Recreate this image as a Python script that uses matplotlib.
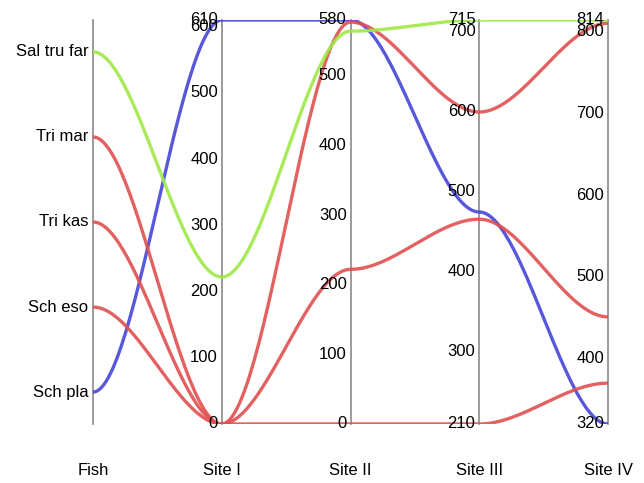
import matplotlib
matplotlib.use("Agg")
import matplotlib.pyplot as plt
import numpy as np

plt.rcParams["font.family"] = ["Liberation Sans", "DejaVu Sans"]

DIMS = ["Fish", "Site I", "Site II", "Site III", "Site IV"]
FISH = ["Sch pla", "Sch eso", "Tri kas", "Tri mar", "Sal tru far"]  # bottom -> top

# per-axis domain (min, max) and ticks
SITE_RANGES = [(0, 610), (0, 580), (210, 715), (320, 814)]
SITE_TICKS = [
    [0, 100, 200, 300, 400, 500, 600, 610],
    [0, 100, 200, 300, 400, 500, 580],
    [210, 300, 400, 500, 600, 700, 715],
    [320, 400, 500, 600, 700, 800, 814],
]

# one record per fish: Site I..IV
SITE_I = [610, 0, 0, 0, 222]
SITE_II = [580, 0, 222, 577, 564]
SITE_III = [475, 210, 466, 600, 715]
SITE_IV = [320, 370, 451, 810, 814]
COLORS = ["#4646d8", "#e05050", "#e05050", "#e05050", "#9fe846"]

FISH_PAD = 0.079  # point-scale padding on Fish axis


def fish_pos(name):
    i = FISH.index(name)
    return FISH_PAD + i * (1 - 2 * FISH_PAD) / (len(FISH) - 1)


def norm(v, k):
    lo, hi = SITE_RANGES[k]
    return (v - lo) / (hi - lo)


fig = plt.figure(figsize=(6.44, 4.83), dpi=100)
ax = fig.add_axes([93 / 644, 59 / 483, 515 / 644, 404 / 483])
ax.set_xlim(0, 4)
ax.set_ylim(0, 1)
ax.axis("off")

# lines, smooth step between neighbouring axes
u = np.linspace(0, 1, 60)
s = 3 * u ** 2 - 2 * u ** 3
for j, name in enumerate(FISH):
    ys = [fish_pos(name)] + [norm(vals[j], k) for k, vals in
                             enumerate([SITE_I, SITE_II, SITE_III, SITE_IV])]
    xs_all, ys_all = [], []
    for i in range(4):
        xs_all.append(i + u)
        ys_all.append(ys[i] + (ys[i + 1] - ys[i]) * s)
    ax.plot(np.concatenate(xs_all), np.concatenate(ys_all), color=COLORS[j],
            lw=2.4, alpha=0.9, clip_on=True, zorder=3)

# axes lines
for i in range(5):
    ax.plot([i, i], [0, 1], color="#8a8a8a", lw=1.2, zorder=2, clip_on=False)
    ax.text(i, -0.115, DIMS[i], ha="center", va="center", fontsize=12)

# fish labels
for name in FISH:
    ax.text(-0.035, fish_pos(name), name, ha="right", va="center", fontsize=12)

# numeric ticks
for k in range(4):
    for t in SITE_TICKS[k]:
        ax.text(k + 1 - 0.03, norm(t, k), str(t), ha="right", va="center",
                fontsize=12, zorder=4)

fig.savefig("out.png", dpi=100)
